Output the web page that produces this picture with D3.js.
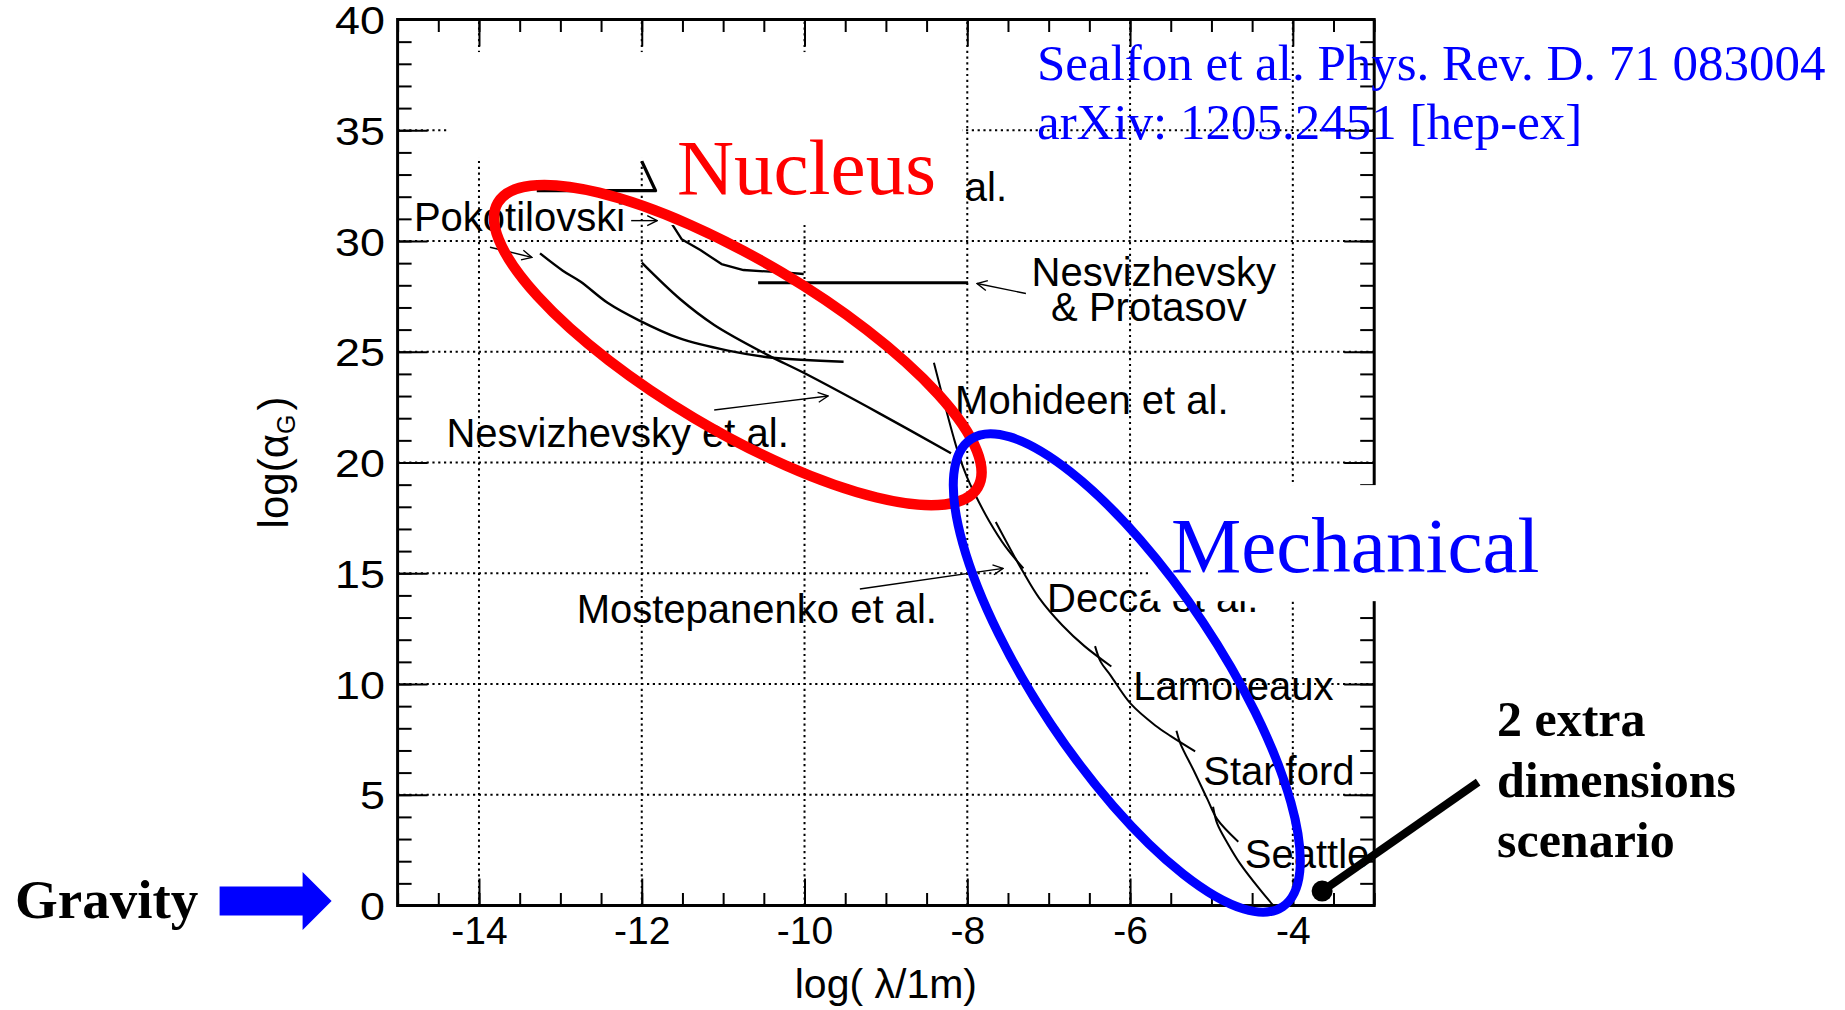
<!DOCTYPE html>
<html lang="en">
<head>
<meta charset="utf-8" />
<script src="https://d3js.org/d3.v7.min.js"></script>
<style>
  body { margin: 0; background: #fff; }
  svg { display: block; }
  .grid line { stroke: #000; stroke-width: 2; stroke-dasharray: 2.2 3.6; }
  .axis line { stroke: #000; stroke-width: 2; }
  .axis text { font-family: "Liberation Sans", Arial, sans-serif; font-size: 39px; fill: #000; }
  .lbl { font-family: "Liberation Sans", Arial, sans-serif; font-size: 40px; fill: #000; }
  .curve { fill: none; stroke: #000; stroke-width: 2.2; stroke-linejoin: round; }
  .pointer { fill: none; stroke: #000; stroke-width: 1.4; }
  .serif { font-family: "Liberation Serif", "Times New Roman", serif; }
</style>
</head>
<body>
<svg width="1845" height="1010"></svg>
<script>
// ---- values (x = log(lambda/1m), y = log(alpha_G)) ----
var xMajorTicks = [-14, -12, -10, -8, -6, -4];
var yMajorTicks = [0, 5, 10, 15, 20, 25, 30, 35, 40];

var stepTop = [[-12.00, 33.60], [-11.83, 32.27], [-13.29, 32.27]];
var pokotilovskiUpper = [[-11.63, 30.77], [-11.51, 30.08], [-11.28, 29.59], [-11.02, 28.96],
  [-10.75, 28.69], [-10.22, 28.57], [-10.01, 28.51]];
var protasovLimit = [[-10.57, 28.12], [-7.99, 28.12]];
var pokotilovskiLower = [[-13.25, 29.44], [-12.97, 28.66], [-12.75, 28.16], [-12.42, 27.21],
  [-12.04, 26.43], [-11.54, 25.61], [-10.94, 25.05], [-10.39, 24.73], [-9.52, 24.55]];
var nesvizhevskyLimit = [[-12.00, 29.02], [-11.53, 27.38], [-11.11, 26.21], [-10.45, 24.85],
  [-10.01, 24.05], [-9.08, 22.22], [-8.20, 20.42]];

var mohideen = [[-8.41, 24.50], [-8.27, 22.52], [-8.17, 21.16], [-8.10, 20.30], [-8.01, 19.40],
  [-7.91, 18.60], [-7.73, 17.35], [-7.53, 16.20], [-7.31, 15.22]];
var decca = [[-7.65, 17.31], [-7.42, 15.75], [-7.32, 15.10], [-7.12, 13.90], [-6.83, 12.64],
  [-6.56, 11.71], [-6.23, 10.79]];
var lamoreaux = [[-6.43, 11.71], [-6.36, 11.00], [-6.24, 10.39], [-5.99, 9.10], [-5.69, 8.13],
  [-5.50, 7.65], [-5.20, 6.96]];
var stanford = [[-5.43, 7.89], [-5.38, 7.30], [-5.21, 6.04], [-5.05, 4.80], [-4.93, 3.90], [-4.67, 2.88]];
var seattle = [[-4.98, 4.46], [-4.93, 3.71], [-4.80, 2.80], [-4.65, 1.90], [-4.40, 0.70], [-4.24, 0.00]];

var labelNames = ["Pokotilovski", "al.", "Nesvizhevsky", "& Protasov", "Mohideen et al.",
  "Nesvizhevsky et al.", "Mostepanenko et al.", "Decca et al.", "Lamoreaux", "Stanford", "Seattle"];
var labelAt = [[-14.80, 30.45], [-8.03, 31.81], [-7.21, 27.97], [-6.97, 26.39], [-8.15, 22.17],
  [-14.40, 20.70], [-12.80, 12.74], [-7.02, 13.24], [-5.96, 9.30], [-5.10, 5.42], [-4.59, 1.68]];

var arrowFrom = [[-12.13, 30.92], [-13.865, 29.72], [-11.11, 22.37], [-7.28, 27.63], [-9.32, 14.29]];
var arrowTo = [[-11.81, 30.92], [-13.35, 29.26], [-9.71, 23.00], [-7.88, 28.08], [-7.56, 15.22]];

// white patches in the original slide
var whiteBoxes = [[[-14.39, 38.53], [-8.06, 33.75]], [[-11.71, 33.75], [-8.06, 30.72]],
  [[-5.75, 18.98], [-0.90, 13.74]]];

var nucleusCenter = [-10.82, 25.30];
var mechanicalCenter = [-6.04, 10.50];
var extraDimPoint = [-3.64, 0.65];

var svg = d3.select("svg");
var x = d3.scaleLinear().domain([-15, -3]).range([397.6, 1374.2]);
var y = d3.scaleLinear().domain([0, 40]).range([905.5, 19.5]);
var line = d3.line().x(d => x(d[0])).y(d => y(d[1]));
var smooth = d3.line().x(d => x(d[0])).y(d => y(d[1])).curve(d3.curveCatmullRom.alpha(0.5));

svg.append("defs").append("marker")
  .attr("id", "head")
  .attr("viewBox", "0 0 12 12")
  .attr("refX", 11).attr("refY", 6)
  .attr("markerWidth", 12).attr("markerHeight", 12)
  .attr("markerUnits", "userSpaceOnUse")
  .attr("orient", "auto")
  .append("path")
  .attr("d", "M1,1 L11,6 L1,11")
  .attr("fill", "none").attr("stroke", "#000").attr("stroke-width", 1.4);

// grid
var grid = svg.append("g").attr("class", "grid");
grid.selectAll(".gx").data(xMajorTicks).enter().append("line")
  .attr("x1", d => x(d)).attr("x2", d => x(d))
  .attr("y1", y(0)).attr("y2", y(40));
grid.selectAll(".gy").data(yMajorTicks.slice(1, -1)).enter().append("line")
  .attr("x1", x(-15)).attr("x2", x(-3))
  .attr("y1", d => y(d)).attr("y2", d => y(d));

// axes (ticks inside, ROOT style)
function noDomain(g) { g.select(".domain").remove(); }
svg.append("g").attr("class", "axis").attr("transform", "translate(0," + y(0) + ")")
  .call(d3.axisBottom(x).tickValues(xMajorTicks).tickSize(-27).tickSizeOuter(0)
    .tickPadding(11).tickFormat(d => String(d))).call(noDomain);
svg.append("g").attr("class", "axis").attr("transform", "translate(0," + y(0) + ")")
  .call(d3.axisBottom(x).ticks(24).tickSize(-12.5).tickSizeOuter(0).tickFormat("")).call(noDomain);
svg.append("g").attr("class", "axis").attr("transform", "translate(0," + y(40) + ")")
  .call(d3.axisTop(x).tickValues(xMajorTicks).tickSize(-27).tickSizeOuter(0).tickFormat("")).call(noDomain);
svg.append("g").attr("class", "axis").attr("transform", "translate(0," + y(40) + ")")
  .call(d3.axisTop(x).ticks(24).tickSize(-12.5).tickSizeOuter(0).tickFormat("")).call(noDomain);
svg.append("g").attr("class", "axis").attr("transform", "translate(" + x(-15) + ",0)")
  .call(d3.axisLeft(y).tickValues(yMajorTicks).tickSize(-30).tickSizeOuter(0)
    .tickPadding(11).tickFormat(d => String(d))).call(noDomain)
  .call(g => g.selectAll("text").attr("transform", "scale(1.15,1)").attr("dy", "0.36em"));
svg.append("g").attr("class", "axis").attr("transform", "translate(" + x(-15) + ",0)")
  .call(d3.axisLeft(y).ticks(40).tickSize(-14).tickSizeOuter(0).tickFormat("")).call(noDomain);
svg.append("g").attr("class", "axis").attr("transform", "translate(" + x(-3) + ",0)")
  .call(d3.axisRight(y).tickValues(yMajorTicks).tickSize(-30).tickSizeOuter(0).tickFormat("")).call(noDomain);
svg.append("g").attr("class", "axis").attr("transform", "translate(" + x(-3) + ",0)")
  .call(d3.axisRight(y).ticks(40).tickSize(-14).tickSizeOuter(0).tickFormat("")).call(noDomain);

svg.append("rect")
  .attr("x", x(-15)).attr("y", y(40))
  .attr("width", x(-3) - x(-15)).attr("height", y(0) - y(40))
  .attr("fill", "none").attr("stroke", "#000").attr("stroke-width", 3);

// axis titles
svg.append("text").attr("class", "lbl")
  .attr("x", (x(-15) + x(-3)) / 2).attr("y", 998)
  .attr("text-anchor", "middle").style("font-size", "41px")
  .text("log( λ/1m)");
var yt = svg.append("text").attr("class", "lbl")
  .attr("transform", "translate(288," + y(20) + ") rotate(-90)")
  .attr("text-anchor", "middle").style("font-size", "42px");
yt.append("tspan").text("log(α");
yt.append("tspan").attr("dy", 7).style("font-size", "25px").text("G");
yt.append("tspan").attr("dy", -7).attr("dx", 4).text(")");

// limit curves
var curves = svg.append("g");
[[stepTop, 3.2, line], [protasovLimit, 3, line], [pokotilovskiUpper, 2.3, line],
 [pokotilovskiLower, 2.4, smooth], [nesvizhevskyLimit, 2.4, smooth],
 [mohideen, 2, smooth], [decca, 2, smooth], [lamoreaux, 2, smooth],
 [stanford, 2, smooth], [seattle, 2, smooth]].forEach(function(c) {
  curves.append("path").attr("class", "curve")
    .attr("d", c[2](c[0])).style("stroke-width", c[1]);
});

// experiment labels
svg.append("g").selectAll("text").data(labelNames).enter().append("text")
  .attr("class", "lbl")
  .attr("x", (d, i) => x(labelAt[i][0]))
  .attr("y", (d, i) => y(labelAt[i][1]))
  .text(d => d);

svg.append("g").selectAll("line").data(arrowFrom).enter().append("line")
  .attr("class", "pointer")
  .attr("x1", d => x(d[0])).attr("y1", d => y(d[1]))
  .attr("x2", (d, i) => x(arrowTo[i][0])).attr("y2", (d, i) => y(arrowTo[i][1]))
  .attr("marker-end", "url(#head)");

svg.append("g").selectAll("rect").data(whiteBoxes).enter().append("rect")
  .attr("x", d => x(d[0][0])).attr("y", d => y(d[0][1]))
  .attr("width", d => x(d[1][0]) - x(d[0][0]))
  .attr("height", d => y(d[1][1]) - y(d[0][1]))
  .attr("fill", "#fff");

// region ellipses
var rc = [x(nucleusCenter[0]), y(nucleusCenter[1])];
svg.append("ellipse").attr("cx", rc[0]).attr("cy", rc[1])
  .attr("rx", 279).attr("ry", 85)
  .attr("transform", "rotate(30.7," + rc[0] + "," + rc[1] + ")")
  .attr("fill", "none").attr("stroke", "#ff0000").attr("stroke-width", 10.5);
var bc = [x(mechanicalCenter[0]), y(mechanicalCenter[1])];
svg.append("ellipse").attr("cx", bc[0]).attr("cy", bc[1])
  .attr("rx", 281).attr("ry", 91.5)
  .attr("transform", "rotate(56.3," + bc[0] + "," + bc[1] + ")")
  .attr("fill", "none").attr("stroke", "#0000ff").attr("stroke-width", 9);

// slide annotations
svg.append("text").attr("class", "serif")
  .attr("x", 677).attr("y", 194).style("font-size", "79px").attr("fill", "#ff0000")
  .text("Nucleus");
svg.append("text").attr("class", "serif")
  .attr("x", 1171).attr("y", 572).style("font-size", "79px").attr("fill", "#0000ff")
  .text("Mechanical");
svg.append("text").attr("class", "serif")
  .attr("x", 1037).attr("y", 80).style("font-size", "51px").attr("fill", "#0000ff")
  .text("Sealfon et al. Phys. Rev. D. 71 083004");
svg.append("text").attr("class", "serif")
  .attr("x", 1037).attr("y", 139).style("font-size", "51px").attr("fill", "#0000ff")
  .text("arXiv: 1205.2451 [hep-ex]");

svg.append("text").attr("class", "serif")
  .attr("x", 15).attr("y", 918).style("font-size", "55px").style("font-weight", "bold")
  .text("Gravity");
var tipX = x(-15) - 66, ay = y(0) - 4.5;
svg.append("path")
  .attr("d", "M" + (tipX - 112) + "," + (ay - 14.5) + "H" + (tipX - 29) + "V" + (ay - 29) +
    "L" + tipX + "," + ay + "L" + (tipX - 29) + "," + (ay + 29) + "V" + (ay + 14.5) +
    "H" + (tipX - 112) + "Z")
  .attr("fill", "#0000ff");

var dp = [x(extraDimPoint[0]), y(extraDimPoint[1])];
svg.append("line").attr("x1", dp[0]).attr("y1", dp[1])
  .attr("x2", dp[0] + 156).attr("y2", dp[1] - 109)
  .attr("stroke", "#000").attr("stroke-width", 8);
svg.append("circle").attr("cx", dp[0]).attr("cy", dp[1]).attr("r", 10.5).attr("fill", "#000");
svg.append("g").selectAll("text").data(["2 extra", "dimensions", "scenario"]).enter()
  .append("text").attr("class", "serif")
  .attr("x", 1497).attr("y", (d, i) => 736 + i * 60.5)
  .style("font-size", "50px").style("font-weight", "bold")
  .text(d => d);
</script>
</body>
</html>
